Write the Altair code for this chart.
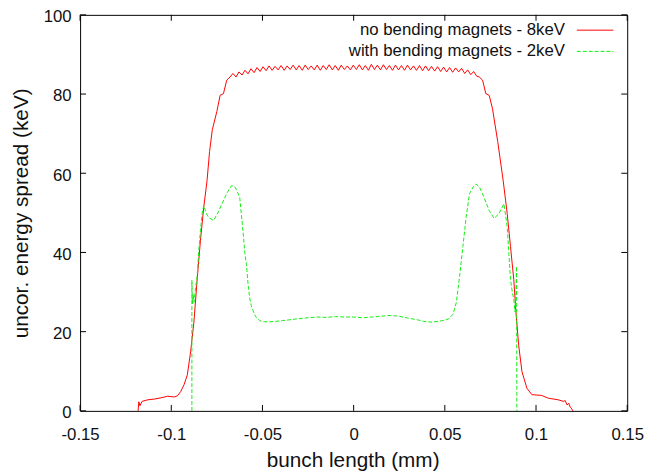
import altair as alt
import pandas as pd

# ---- data ----
x_ticks = [-0.15, -0.1, -0.05, 0, 0.05, 0.1, 0.15]
y_ticks = [0, 20, 40, 60, 80, 100]
series_names = ["no bending magnets - 8keV", "with bending magnets - 2keV"]
series_colors = ["#ff0000", "#11ee11"]

red_x = [
    -0.1182, -0.1178, -0.1172, -0.1160, -0.1128, -0.1090, -0.1056, -0.1020, -0.0984, -0.0966,
    -0.0948, -0.0930, -0.0912, -0.0894, -0.0876, -0.0858, -0.0840, -0.0822, -0.0804, -0.0790,
    -0.0775, -0.0750, -0.0732, -0.0714, -0.0696, -0.0678,
    -0.0662, -0.0645, -0.0629, -0.0612, -0.0596, -0.0579, -0.0563, -0.0546, -0.0530, -0.0513,
    -0.0497, -0.0480, -0.0464, -0.0447, -0.0431, -0.0414, -0.0398, -0.0381, -0.0365, -0.0348,
    -0.0332, -0.0315, -0.0299, -0.0282, -0.0266, -0.0249, -0.0233, -0.0216, -0.0200, -0.0183,
    -0.0167, -0.0150, -0.0134, -0.0117, -0.0101, -0.0084, -0.0068, -0.0051, -0.0035, -0.0018,
    -0.0002, 0.0015, 0.0031, 0.0048, 0.0064, 0.0081, 0.0097, 0.0114, 0.0130, 0.0147,
    0.0163, 0.0180, 0.0196, 0.0213, 0.0229, 0.0246, 0.0262, 0.0279, 0.0295, 0.0312,
    0.0328, 0.0345, 0.0361, 0.0378, 0.0394, 0.0411, 0.0427, 0.0444, 0.0460, 0.0477,
    0.0493, 0.0510, 0.0526, 0.0543, 0.0559, 0.0576, 0.0592, 0.0609, 0.0625, 0.0642,
    0.0658, 0.0675,
    0.0689, 0.0707, 0.0725, 0.0743, 0.0761, 0.0790, 0.0820, 0.0842, 0.0860, 0.0878,
    0.0890, 0.0905, 0.0923, 0.0950, 0.0977, 0.1031, 0.1067, 0.1121, 0.1150, 0.1160,
    0.1170, 0.1180, 0.1188, 0.1193, 0.1202,
]
red_y = [
    0.0, 2.3, 1.3, 2.4, 2.8, 3.0, 3.3, 3.7, 3.5, 3.8,
    4.9, 6.6, 9.1, 14.9, 22.4, 33.2, 43.1, 51.4, 58.1, 65.5,
    71.0, 75.6, 79.7, 80.1, 83.5, 84.3,
    85.2, 84.3, 85.6, 84.8, 86.0, 85.1, 86.4, 85.4, 86.7, 85.7,
    86.9, 85.9, 87.1, 86.0, 87.0, 86.1, 87.2, 86.0, 87.1, 86.2,
    87.3, 86.1, 87.2, 86.0, 87.3, 86.2, 87.1, 86.1, 87.3, 86.0,
    87.2, 86.2, 87.4, 86.1, 87.2, 86.0, 87.3, 86.2, 87.1, 86.1,
    87.3, 86.2, 87.4, 86.1, 87.2, 86.0, 87.5, 86.2, 87.3, 86.1,
    87.4, 86.2, 87.2, 86.0, 87.3, 86.1, 87.2, 86.0, 87.3, 86.1,
    87.1, 86.0, 87.2, 85.9, 87.1, 85.9, 87.0, 85.8, 86.9, 85.7,
    86.8, 85.6, 86.7, 85.5, 86.6, 85.6, 86.5, 85.2, 86.1, 84.9,
    85.7, 84.5,
    84.3, 83.5, 80.1, 79.7, 76.4, 68.0, 58.1, 49.8, 41.5, 33.2,
    24.9, 16.5, 9.9, 5.7, 4.1, 3.9, 3.2, 2.8, 2.4, 2.6,
    1.5, 1.9, 0.9, 0.7, 0.0,
]

green_x = [
    -0.0887, -0.0887, -0.0884, -0.0880, -0.0876, -0.0867, -0.0858, -0.0849, -0.0840, -0.0831,
    -0.0822, -0.0810, -0.0795, -0.0768, -0.0745, -0.0720, -0.0695, -0.0669, -0.0650, -0.0625,
    -0.0606, -0.0597, -0.0588, -0.0579, -0.0570, -0.0561, -0.0545, -0.0534, -0.0515, -0.0498,
    -0.0460, -0.0426, -0.0390, -0.0350, -0.0300, -0.0250, -0.0200, -0.0150, -0.0100, -0.0050,
    0.0000, 0.0050, 0.0100, 0.0150, 0.0200, 0.0250, 0.0300, 0.0350, 0.0383, 0.0430,
    0.0491, 0.0520, 0.0545, 0.0563, 0.0581, 0.0599, 0.0617, 0.0635, 0.0655, 0.0671,
    0.0690, 0.0707, 0.0743, 0.0770, 0.0797, 0.0824, 0.0842, 0.0851, 0.0860, 0.0870,
    0.0878, 0.0885, 0.0890, 0.0893, 0.0894, 0.0895,
]
green_y = [
    0.0, 33.0, 27.0, 29.5, 27.4, 31.0, 34.0, 40.6, 45.6, 49.8,
    51.9, 50.0, 48.8, 48.1, 50.0, 52.5, 55.0, 56.9, 56.5, 54.0,
    45.0, 40.0, 37.0, 32.0, 28.5, 26.5, 24.5, 23.6, 22.8, 22.5,
    22.5, 22.6, 22.8, 23.0, 23.3, 23.5, 23.7, 23.6, 23.8, 23.7,
    23.7, 23.5, 23.7, 23.9, 24.1, 23.9, 23.4, 23.0, 22.6, 22.4,
    22.8, 23.2, 24.4, 27.4, 34.0, 41.5, 49.0, 54.8, 56.5, 57.3,
    56.5, 54.8, 50.6, 48.6, 49.8, 52.3, 46.5, 39.8, 33.2, 30.0,
    28.2, 25.0, 30.0, 36.5, 24.0, 0.0,
]

# ---- layout / style ----
W, H = 554, 401
FONT = "Liberation Sans"

red_df = pd.DataFrame({"x": red_x, "y": red_y, "order": list(range(len(red_x)))})
green_df = pd.DataFrame({"x": green_x, "y": green_y, "order": list(range(len(green_x)))})
xt_df = pd.DataFrame({"x": x_ticks})
yt_df = pd.DataFrame({"y": y_ticks})
leg0 = pd.DataFrame({"name": [series_names[0]]})
leg1 = pd.DataFrame({"name": [series_names[1]]})

xscale = alt.Scale(domain=[-0.15, 0.15], nice=False, zero=False)
yscale = alt.Scale(domain=[0, 100], nice=False)

x_enc = alt.X(
    "x:Q", scale=xscale,
    axis=alt.Axis(
        values=x_ticks, title="bunch length (mm)",
        labelExpr="replace(format(datum.value, '~g'), '\u2212', '-')",
        labelFlush=False, labelOverlap=False,
        labelPadding=16, titleX=W / 2 - 1, titleY=56, titleBaseline="alphabetic",
        titleAnchor="middle",
    ),
)
y_enc = alt.Y(
    "y:Q", scale=yscale,
    axis=alt.Axis(
        values=y_ticks, title="uncor. energy spread (keV)",
        labelFlush=False, labelOverlap=False,
        labelPadding=9, labelOffset=2, labelBaseline="middle",
        titleX=-59, titleY=H / 2, titleAngle=270, titleBaseline="middle",
        titleAnchor="middle",
    ),
)

red = alt.Chart(red_df).mark_line(color=series_colors[0], strokeWidth=1).encode(
    x=x_enc, y=y_enc, order="order:Q"
)
green = alt.Chart(green_df).mark_line(
    color=series_colors[1], strokeWidth=1, strokeDash=[4, 2]
).encode(x="x:Q", y="y:Q", order="order:Q")

tick_len = 6
xt_bottom = alt.Chart(xt_df).mark_rule(color="black", strokeWidth=1).encode(
    x="x:Q", y=alt.value(H), y2=alt.value(H - tick_len)
)
xt_top = alt.Chart(xt_df).mark_rule(color="black", strokeWidth=1).encode(
    x="x:Q", y=alt.value(0), y2=alt.value(tick_len)
)
yt_left = alt.Chart(yt_df).mark_rule(color="black", strokeWidth=1).encode(
    y="y:Q", x=alt.value(0), x2=alt.value(tick_len)
)
yt_right = alt.Chart(yt_df).mark_rule(color="black", strokeWidth=1).encode(
    y="y:Q", x=alt.value(W), x2=alt.value(W - tick_len)
)

leg_text_x = 491
leg_line_x1, leg_line_x2 = 503, 540
row0, row1 = 15.5, 37

leg_t0 = alt.Chart(leg0).mark_text(
    align="right", baseline="middle", font=FONT, fontSize=17, color="#111"
).encode(text="name:N", x=alt.value(leg_text_x), y=alt.value(row0))
leg_t1 = alt.Chart(leg1).mark_text(
    align="right", baseline="middle", font=FONT, fontSize=17, color="#111"
).encode(text="name:N", x=alt.value(leg_text_x), y=alt.value(row1))
leg_l0 = alt.Chart(leg0).mark_rule(color=series_colors[0], strokeWidth=1).encode(
    x=alt.value(leg_line_x1), x2=alt.value(leg_line_x2), y=alt.value(row0)
)
leg_l1 = alt.Chart(leg1).mark_rule(
    color=series_colors[1], strokeWidth=1, strokeDash=[4, 2]
).encode(x=alt.value(leg_line_x1), x2=alt.value(leg_line_x2), y=alt.value(row1))

chart = (
    alt.layer(red, green, xt_bottom, xt_top, yt_left, yt_right,
              leg_t0, leg_t1, leg_l0, leg_l1)
    .properties(
        width=W, height=H,
        autosize=alt.AutoSizeParams(type="none"),
        padding={"left": 73, "top": 4, "right": 17, "bottom": 62},
    )
    .configure_view(stroke="black", strokeWidth=1)
    .configure_axis(
        domain=False, ticks=False, tickSize=0, grid=False,
        labelFont=FONT, labelFontSize=17, labelColor="#111",
        titleFont=FONT, titleFontSize=21, titleFontWeight="normal", titleColor="#111",
    )
)

chart.save("out.html", embed_options={"renderer": "svg", "actions": False})
